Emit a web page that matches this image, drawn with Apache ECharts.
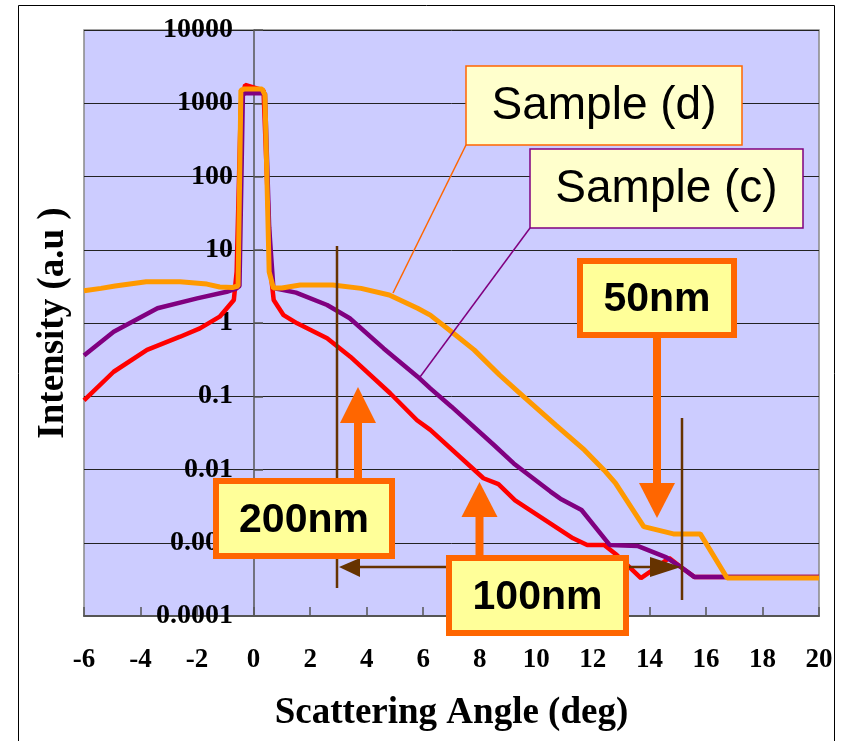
<!DOCTYPE html>
<html>
<head>
<meta charset="utf-8">
<title>Scattering Angle</title>
<script src="https://cdn.jsdelivr.net/npm/echarts@6/dist/echarts.min.js"></script>
<style>
  html, body { margin: 0; padding: 0; background: #ffffff; }
  #chart { width: 842px; height: 741px; }
</style>
</head>
<body>
<div id="chart"></div>
<script>
// 刻度标签
var yTickLabels = ['0.0001', '0.001', '0.01', '0.1', '1', '10', '100', '1000', '10000'];
var xTickLabels = ['-6', '-4', '-2', '0', '2', '4', '6', '8', '10', '12', '14', '16', '18', '20'];

// 红线（未标注样品）
var redAngle = [-6, -4.95, -3.77, -2.6, -1.9, -1.2, -0.7, -0.6, -0.45, -0.3, 0.35, 0.5, 0.6, 0.71, 1.06, 1.54, 2.6, 3.42, 4.83, 5.78, 6.25, 8.13, 8.66, 9.25, 11.3, 11.8, 12.4, 12.85, 13.7, 14.1, 14.7, 15.1, 15.6, 20];
var redIntensity = [0.088, 0.216, 0.43, 0.65, 0.845, 1.22, 2.06, 5, 1000, 1780, 1500, 50, 5, 2.06, 1.28, 0.99, 0.62, 0.347, 0.11, 0.047, 0.0347, 0.0076, 0.0063, 0.0038, 0.00115, 0.00093, 0.00093, 0.00068, 0.00033, 0.00042, 0.00062, 0.00047, 0.00034, 0.00034];

// 紫线 Sample (c)
var purpleAngle = [-6, -4.95, -3.4, -2.0, -0.95, -0.6, -0.5, -0.38, -0.3, 0.4, 0.55, 0.7, 1.5, 2.6, 3.4, 4.6, 5.8, 6.25, 7.0, 8.5, 9.2, 10.5, 10.85, 11.6, 12.6, 13.6, 14.6, 15.1, 15.6, 16.7, 20];
var purpleIntensity = [0.36, 0.76, 1.59, 2.17, 2.67, 2.97, 3.2, 1300, 1370, 1370, 20, 3.0, 2.6, 1.76, 1.16, 0.45, 0.185, 0.128, 0.072, 0.0216, 0.0121, 0.005, 0.004, 0.0028, 0.00093, 0.0009, 0.00063, 0.00047, 0.00034, 0.00034, 0.00034];

// 橙线 Sample (d)
var orangeAngle = [-6, -5.4, -4.9, -3.8, -2.6, -1.65, -1.2, -0.75, -0.55, -0.45, -0.35, 0.3, 0.4, 0.55, 0.7, 1.0, 1.65, 2.8, 3.8, 4.8, 5.8, 6.25, 7.0, 7.8, 8.7, 9.55, 10.7, 11.7, 12.4, 12.8, 13.8, 14.85, 15.8, 16.75, 20];
var orangeIntensity = [2.75, 2.97, 3.2, 3.65, 3.65, 3.4, 3.1, 3.05, 3.2, 1500, 1560, 1560, 1300, 5, 3.0, 3.0, 3.3, 3.3, 2.97, 2.41, 1.59, 1.28, 0.76, 0.43, 0.195, 0.099, 0.040, 0.0185, 0.0098, 0.0065, 0.00166, 0.00132, 0.00132, 0.00033, 0.00033];

var serif = '"Liberation Serif", "Times New Roman", serif';
var sans = '"Liberation Sans", Arial, sans-serif';

function pairs(xs, ys) {
    var out = [];
    for (var i = 0; i < xs.length; i++) out.push([xs[i], ys[i]]);
    return out;
}

// 标注框（细边框）
function noteBox(x, y, w, h, stroke, text) {
    return [
        { type: 'rect', z: 50, shape: { x: x, y: y, width: w, height: h },
          style: { fill: '#FFFFCC', stroke: stroke, lineWidth: 1.5 } },
        { type: 'text', z: 51, style: { text: text, x: x + w / 2, y: y + h / 2 + 1,
          align: 'center', verticalAlign: 'middle', font: '46px ' + sans, fill: '#000' } }
    ];
}

// 尺寸框（粗橙边框）
function sizeBox(x, y, w, h, text) {
    return [
        { type: 'rect', z: 60, shape: { x: x + 3, y: y + 3, width: w - 6, height: h - 6 },
          style: { fill: '#FFFF99', stroke: '#FF6600', lineWidth: 6 } },
        { type: 'text', z: 61, style: { text: text, x: x + w / 2, y: y + h / 2 + 2,
          align: 'center', verticalAlign: 'middle', font: 'bold 41px ' + sans, fill: '#000' } }
    ];
}

// 竖直箭头
function vArrow(cx, yFrom, yTip, headLen) {
    var dir = yTip > yFrom ? 1 : -1;
    var base = yTip - dir * headLen;
    return [
        { type: 'line', z: 55, shape: { x1: cx, y1: yFrom, x2: cx, y2: base },
          style: { stroke: '#FF6600', lineWidth: 8 } },
        { type: 'polygon', z: 55, shape: { points: [[cx - 18, base], [cx + 18, base], [cx, yTip]] },
          style: { fill: '#FF6600' } }
    ];
}

var graphics = [];
// 外框
graphics.push({ type: 'rect', z: 1, shape: { x: 18.5, y: 5.5, width: 816, height: 760 },
    style: { fill: null, stroke: '#000', lineWidth: 1 } });

// 棕色参考线与双向箭头
var brown = '#663300';
graphics.push({ type: 'line', z: 40, shape: { x1: 337, y1: 246, x2: 337, y2: 588 }, style: { stroke: brown, lineWidth: 2.5 } });
graphics.push({ type: 'line', z: 40, shape: { x1: 682, y1: 418, x2: 682, y2: 600 }, style: { stroke: brown, lineWidth: 2.5 } });
graphics.push({ type: 'line', z: 40, shape: { x1: 355, y1: 567, x2: 660, y2: 567 }, style: { stroke: brown, lineWidth: 2.5 } });
graphics.push({ type: 'polygon', z: 40, shape: { points: [[339, 567], [360, 558], [360, 577]] }, style: { fill: brown } });
graphics.push({ type: 'polygon', z: 40, shape: { points: [[681, 567], [650, 557], [650, 577]] }, style: { fill: brown } });

// 引出线
graphics.push({ type: 'line', z: 45, shape: { x1: 466, y1: 145, x2: 393, y2: 293 }, style: { stroke: '#FF6600', lineWidth: 1.5 } });
graphics.push({ type: 'line', z: 45, shape: { x1: 530, y1: 228, x2: 420, y2: 377 }, style: { stroke: '#800080', lineWidth: 1.5 } });

graphics = graphics
    .concat(noteBox(466, 66, 276, 79, '#FF6600', 'Sample (d)'))
    .concat(noteBox(530, 149, 273, 79, '#800080', 'Sample (c)'))
    .concat(vArrow(657, 338, 518, 35))
    .concat(vArrow(358, 479, 387, 36))
    .concat(vArrow(479.5, 556, 482, 35))
    .concat(sizeBox(577, 258, 160, 80, '50nm'))
    .concat(sizeBox(213, 478, 182, 81, '200nm'))
    .concat(sizeBox(446, 555, 183, 81, '100nm'));

var chart = echarts.init(document.getElementById('chart'));

// y 轴画在 x=0 处：网格宽 735 对应 26 个单位，0 距左边 6 个单位
var yAxisShift = -Math.round(735 * 6 / 26);

var option = {
    animation: false,
    backgroundColor: '#ffffff',
    grid: {
        left: 84, top: 30, width: 735, height: 586,
        outerBoundsMode: 'none', containLabel: false,
        show: true, backgroundColor: '#CCCCFF', borderColor: '#888888', borderWidth: 1.5
    },
    xAxis: {
        type: 'value', min: -6, max: 20, interval: 2,
        name: 'Scattering Angle (deg)', nameLocation: 'middle', nameGap: 79,
        nameTextStyle: { fontFamily: serif, fontWeight: 'bold', fontSize: 37, color: '#000' },
        axisLine: { onZero: false, lineStyle: { color: '#555', width: 2 } },
        axisTick: { inside: true, length: 9, lineStyle: { color: '#555', width: 1.5 } },
        axisLabel: {
            margin: 31, fontFamily: serif, fontWeight: 'bold', fontSize: 27, color: '#000',
            formatter: function (v) { return xTickLabels[Math.round((v + 6) / 2)]; }
        },
        splitLine: { show: false }
    },
    yAxis: {
        type: 'log', logBase: 10, min: 0.0001, max: 10000,
        offset: yAxisShift,
        name: 'Intensity (a.u )', nameLocation: 'middle', nameGap: 182,
        nameTextStyle: { fontFamily: serif, fontWeight: 'bold', fontSize: 37, color: '#000' },
        axisLine: { show: true, onZero: false, lineStyle: { color: '#555', width: 1.5 } },
        axisTick: { show: true, inside: true, length: 9, lineStyle: { color: '#555', width: 1.5 } },
        axisLabel: {
            margin: 21, fontFamily: serif, fontWeight: 'bold', fontSize: 28, color: '#000',
            formatter: function (v) {
                var e = Math.round(Math.log(v) / Math.LN10);
                return yTickLabels[e + 4] || '';
            }
        },
        splitLine: { show: true, lineStyle: { color: '#222', width: 1 } }
    },
    series: [
        { type: 'line', name: 'Sample', data: pairs(redAngle, redIntensity), showSymbol: false,
          lineStyle: { color: '#FF0000', width: 4.5 }, z: 3 },
        { type: 'line', name: 'Sample (c)', data: pairs(purpleAngle, purpleIntensity), showSymbol: false,
          lineStyle: { color: '#800080', width: 4.5 }, z: 4 },
        { type: 'line', name: 'Sample (d)', data: pairs(orangeAngle, orangeIntensity), showSymbol: false,
          lineStyle: { color: '#FF9900', width: 5 }, z: 5 }
    ],
    graphic: graphics
};

chart.setOption(option);
</script>
</body>
</html>
